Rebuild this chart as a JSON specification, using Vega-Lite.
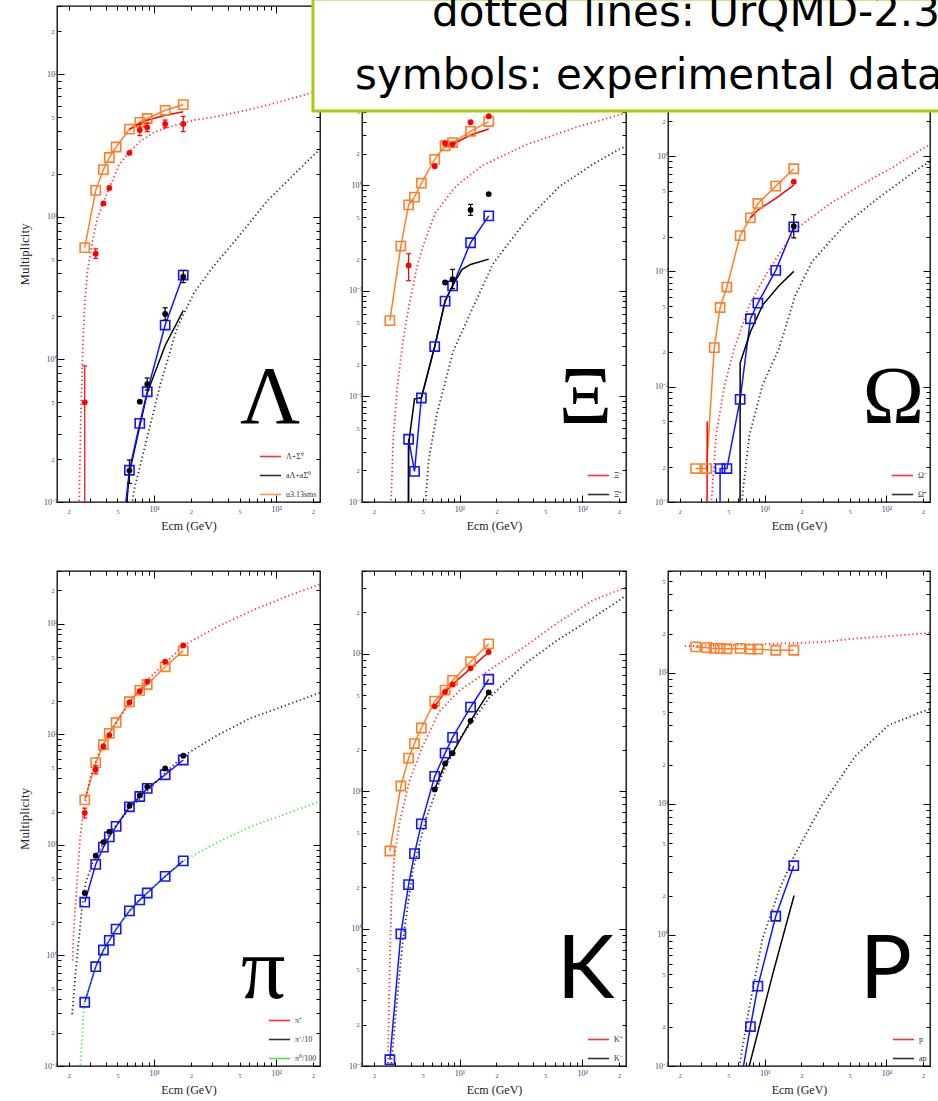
{
"$schema": "https://vega.github.io/schema/vega-lite/v6.json",
"usermeta": {"embedOptions": {"actions": false}},
"background": "white",
"padding": {"left": 17, "top": -9, "right": -20, "bottom": 0},
"datasets": {
"one": [{}],
"lam": [
{"E":2.7,"M":6.07,"s":"u3.13sms","t":"sq"},{"E":3.32,"M":15.3,"s":"u3.13sms","t":"sq"},{"E":3.84,"M":21.4,"s":"u3.13sms","t":"sq"},{"E":4.29,"M":26.0,"s":"u3.13sms","t":"sq"},{"E":4.88,"M":30.8,"s":"u3.13sms","t":"sq"},{"E":6.27,"M":41.1,"s":"u3.13sms","t":"sq"},{"E":7.62,"M":45.9,"s":"u3.13sms","t":"sq"},{"E":8.77,"M":48.8,"s":"u3.13sms","t":"sq"},{"E":12.3,"M":55.7,"s":"u3.13sms","t":"sq"},{"E":17.3,"M":61.0,"s":"u3.13sms","t":"sq"},
{"E":6.27,"M":41,"s":"Λ+Σ⁰","t":"ln"},{"E":7.62,"M":45,"s":"Λ+Σ⁰","t":"ln"},{"E":8.77,"M":47.5,"s":"Λ+Σ⁰","t":"ln"},{"E":12.3,"M":51.5,"s":"Λ+Σ⁰","t":"ln"},{"E":17.3,"M":54.5,"s":"Λ+Σ⁰","t":"ln"},
{"E":2.7,"M":0.5,"lo":0.01,"hi":0.9,"s":"Λ+Σ⁰","t":"pt"},{"E":3.32,"M":5.5,"lo":5.1,"hi":5.95,"s":"Λ+Σ⁰","t":"pt"},{"E":3.84,"M":12.4,"s":"Λ+Σ⁰","t":"pt"},{"E":4.29,"M":15.9,"s":"Λ+Σ⁰","t":"pt"},{"E":6.27,"M":28.0,"s":"Λ+Σ⁰","t":"pt"},{"E":7.62,"M":40.5,"lo":37,"hi":44.4,"s":"Λ+Σ⁰","t":"pt"},{"E":8.77,"M":42.3,"lo":39.5,"hi":45.3,"s":"Λ+Σ⁰","t":"pt"},{"E":12.3,"M":44.7,"lo":42,"hi":47.6,"s":"Λ+Σ⁰","t":"pt"},{"E":17.3,"M":44.7,"lo":39.5,"hi":50.5,"s":"Λ+Σ⁰","t":"pt"},
{"E":2.41,"M":0.05,"s":"Λ+Σ⁰","t":"dot"},{"E":2.43,"M":0.1,"s":"Λ+Σ⁰","t":"dot"},{"E":2.5,"M":0.35,"s":"Λ+Σ⁰","t":"dot"},{"E":2.6,"M":1.2,"s":"Λ+Σ⁰","t":"dot"},{"E":2.7,"M":2.5,"s":"Λ+Σ⁰","t":"dot"},{"E":2.85,"M":4.2,"s":"Λ+Σ⁰","t":"dot"},{"E":3.1,"M":6.5,"s":"Λ+Σ⁰","t":"dot"},{"E":3.42,"M":9.8,"s":"Λ+Σ⁰","t":"dot"},{"E":3.84,"M":12.6,"s":"Λ+Σ⁰","t":"dot"},{"E":4.29,"M":15.9,"s":"Λ+Σ⁰","t":"dot"},{"E":5.15,"M":23,"s":"Λ+Σ⁰","t":"dot"},{"E":6.23,"M":28.3,"s":"Λ+Σ⁰","t":"dot"},{"E":7.76,"M":34,"s":"Λ+Σ⁰","t":"dot"},{"E":10,"M":39,"s":"Λ+Σ⁰","t":"dot"},{"E":12.9,"M":42.3,"s":"Λ+Σ⁰","t":"dot"},{"E":21.3,"M":47.6,"s":"Λ+Σ⁰","t":"dot"},{"E":33,"M":50.5,"s":"Λ+Σ⁰","t":"dot"},{"E":62,"M":56.7,"s":"Λ+Σ⁰","t":"dot"},{"E":117,"M":65.2,"s":"Λ+Σ⁰","t":"dot"},{"E":228,"M":77,"s":"Λ+Σ⁰","t":"dot"},
{"E":6.27,"M":0.166,"lo":0.135,"hi":0.197,"s":"aΛ+aΣ⁰","t":"pt"},{"E":7.62,"M":0.505,"s":"aΛ+aΣ⁰","t":"pt"},{"E":8.77,"M":0.671,"lo":0.61,"hi":0.74,"s":"aΛ+aΣ⁰","t":"pt"},{"E":12.3,"M":2.08,"lo":1.88,"hi":2.3,"s":"aΛ+aΣ⁰","t":"pt"},{"E":17.3,"M":3.8,"lo":3.45,"hi":4.2,"s":"aΛ+aΣ⁰","t":"pt"},
{"E":5.9,"M":0.09,"s":"aΛ+aΣ⁰","t":"ln"},{"E":6.27,"M":0.16,"s":"aΛ+aΣ⁰","t":"ln"},{"E":7.62,"M":0.34,"s":"aΛ+aΣ⁰","t":"ln"},{"E":8.77,"M":0.58,"s":"aΛ+aΣ⁰","t":"ln"},{"E":12.3,"M":1.25,"s":"aΛ+aΣ⁰","t":"ln"},{"E":17.3,"M":2.2,"s":"aΛ+aΣ⁰","t":"ln"},
{"E":6.5,"M":0.09,"s":"aΛ+aΣ⁰","t":"dot"},{"E":6.84,"M":0.121,"s":"aΛ+aΣ⁰","t":"dot"},{"E":8.26,"M":0.231,"s":"aΛ+aΣ⁰","t":"dot"},{"E":11.3,"M":0.68,"s":"aΛ+aΣ⁰","t":"dot"},{"E":15.5,"M":1.69,"s":"aΛ+aΣ⁰","t":"dot"},{"E":21.3,"M":2.95,"s":"aΛ+aΣ⁰","t":"dot"},{"E":30,"M":4.4,"s":"aΛ+aΣ⁰","t":"dot"},{"E":45.4,"M":6.7,"s":"aΛ+aΣ⁰","t":"dot"},{"E":85,"M":13,"s":"aΛ+aΣ⁰","t":"dot"},{"E":200,"M":26.8,"s":"aΛ+aΣ⁰","t":"dot"},{"E":228,"M":29.5,"s":"aΛ+aΣ⁰","t":"dot"},
{"E":5.6,"M":0.07,"s":"b","t":"ln"},{"E":6.27,"M":0.167,"s":"b","t":"sq"},{"E":7.62,"M":0.356,"s":"b","t":"sq"},{"E":8.77,"M":0.593,"s":"b","t":"sq"},{"E":12.3,"M":1.74,"s":"b","t":"sq"},{"E":17.3,"M":3.9,"s":"b","t":"sq"}
],
"xi": [
{"E":2.7,"M":0.0523,"s":"u","t":"sq"},{"E":3.32,"M":0.266,"s":"u","t":"sq"},{"E":3.84,"M":0.653,"s":"u","t":"sq"},{"E":4.29,"M":0.774,"s":"u","t":"sq"},{"E":4.88,"M":1.05,"s":"u","t":"sq"},{"E":6.27,"M":1.76,"s":"u","t":"sq"},{"E":7.62,"M":2.37,"s":"u","t":"sq"},{"E":8.77,"M":2.54,"s":"u","t":"sq"},{"E":12.3,"M":3.25,"s":"u","t":"sq"},{"E":17.3,"M":4.02,"s":"u","t":"sq"},
{"E":7.62,"M":2.3,"s":"Ξ⁻","t":"ln"},{"E":8.77,"M":2.45,"s":"Ξ⁻","t":"ln"},{"E":12.3,"M":3.0,"s":"Ξ⁻","t":"ln"},{"E":17.3,"M":3.42,"s":"Ξ⁻","t":"ln"},
{"E":3.84,"M":0.174,"lo":0.125,"hi":0.225,"s":"Ξ⁻","t":"pt"},{"E":6.27,"M":1.52,"s":"Ξ⁻","t":"pt"},{"E":7.62,"M":2.51,"s":"Ξ⁻","t":"pt"},{"E":8.77,"M":2.45,"s":"Ξ⁻","t":"pt"},{"E":12.3,"M":3.96,"s":"Ξ⁻","t":"pt"},{"E":17.3,"M":4.52,"s":"Ξ⁻","t":"pt"},
{"E":2.74,"M":0.0008,"s":"Ξ⁻","t":"dot"},{"E":2.88,"M":0.004,"s":"Ξ⁻","t":"dot"},{"E":3.1,"M":0.012,"s":"Ξ⁻","t":"dot"},{"E":3.47,"M":0.035,"s":"Ξ⁻","t":"dot"},{"E":3.85,"M":0.07,"s":"Ξ⁻","t":"dot"},{"E":4.5,"M":0.17,"s":"Ξ⁻","t":"dot"},{"E":5.0,"M":0.26,"s":"Ξ⁻","t":"dot"},{"E":6.3,"M":0.54,"s":"Ξ⁻","t":"dot"},{"E":8.85,"M":0.91,"s":"Ξ⁻","t":"dot"},{"E":10,"M":1.05,"s":"Ξ⁻","t":"dot"},{"E":15.5,"M":1.55,"s":"Ξ⁻","t":"dot"},{"E":35,"M":2.43,"s":"Ξ⁻","t":"dot"},{"E":89.5,"M":3.55,"s":"Ξ⁻","t":"dot"},{"E":228,"M":4.85,"s":"Ξ⁻","t":"dot"},
{"E":3.83,"M":0.0005,"s":"b","t":"ln"},{"E":3.84,"M":0.00393,"s":"b","t":"sq"},{"E":4.29,"M":0.00195,"s":"b","t":"sq"},{"E":4.88,"M":0.00966,"s":"b","t":"sq"},{"E":6.27,"M":0.0297,"s":"b","t":"sq"},{"E":7.62,"M":0.08,"s":"b","t":"sq"},{"E":8.77,"M":0.1117,"s":"b","t":"sq"},{"E":12.3,"M":0.286,"s":"b","t":"sq"},{"E":17.3,"M":0.513,"s":"b","t":"sq"},
{"E":3.83,"M":0.0005,"s":"Ξ̄⁺","t":"ln"},{"E":3.835,"M":0.0035,"s":"Ξ̄⁺","t":"ln"},{"E":4.29,"M":0.0095,"s":"Ξ̄⁺","t":"ln"},{"E":4.88,"M":0.0097,"s":"Ξ̄⁺","t":"ln"},{"E":6.27,"M":0.0297,"s":"Ξ̄⁺","t":"ln"},{"E":7.62,"M":0.08,"s":"Ξ̄⁺","t":"ln"},{"E":8.77,"M":0.112,"s":"Ξ̄⁺","t":"ln"},{"E":10.5,"M":0.16,"s":"Ξ̄⁺","t":"ln"},{"E":12.3,"M":0.178,"s":"Ξ̄⁺","t":"ln"},{"E":17.3,"M":0.2,"s":"Ξ̄⁺","t":"ln"},
{"E":7.62,"M":0.12,"s":"Ξ̄⁺","t":"pt"},{"E":8.77,"M":0.129,"lo":0.105,"hi":0.16,"s":"Ξ̄⁺","t":"pt"},{"E":12.3,"M":0.585,"lo":0.52,"hi":0.66,"s":"Ξ̄⁺","t":"pt"},{"E":17.3,"M":0.826,"s":"Ξ̄⁺","t":"pt"},
{"E":5.2,"M":0.0008,"s":"Ξ̄⁺","t":"dot"},{"E":5.6,"M":0.0025,"s":"Ξ̄⁺","t":"dot"},{"E":6.49,"M":0.0066,"s":"Ξ̄⁺","t":"dot"},{"E":8.85,"M":0.0266,"s":"Ξ̄⁺","t":"dot"},{"E":12.1,"M":0.0597,"s":"Ξ̄⁺","t":"dot"},{"E":18.7,"M":0.18,"s":"Ξ̄⁺","t":"dot"},{"E":35.1,"M":0.469,"s":"Ξ̄⁺","t":"dot"},{"E":65.5,"M":0.977,"s":"Ξ̄⁺","t":"dot"},{"E":122,"M":1.58,"s":"Ξ̄⁺","t":"dot"},{"E":201,"M":2.2,"s":"Ξ̄⁺","t":"dot"},{"E":228,"M":2.35,"s":"Ξ̄⁺","t":"dot"}
],
"om": [
{"E":2.7,"M":0.00195,"s":"u","t":"sq"},{"E":3.32,"M":0.00195,"s":"u","t":"sq"},{"E":3.84,"M":0.0218,"s":"u","t":"sq"},{"E":4.29,"M":0.0486,"s":"u","t":"sq"},{"E":4.88,"M":0.0731,"s":"u","t":"sq"},{"E":6.27,"M":0.204,"s":"u","t":"sq"},{"E":7.62,"M":0.291,"s":"u","t":"sq"},{"E":8.77,"M":0.388,"s":"u","t":"sq"},{"E":12.3,"M":0.548,"s":"u","t":"sq"},{"E":17.3,"M":0.776,"s":"u","t":"sq"},
{"E":3.35,"M":0.0005,"s":"r2","t":"ln"},{"E":3.36,"M":0.005,"s":"r2","t":"ln"},
{"E":7.62,"M":0.29,"s":"Ω⁻","t":"ln"},{"E":8.77,"M":0.34,"s":"Ω⁻","t":"ln"},{"E":12.3,"M":0.43,"s":"Ω⁻","t":"ln"},{"E":17.3,"M":0.56,"s":"Ω⁻","t":"ln"},
{"E":17.3,"M":0.598,"s":"Ω⁻","t":"pt"},
{"E":3.55,"M":0.0007,"s":"Ω⁻","t":"dot"},{"E":3.69,"M":0.00122,"s":"Ω⁻","t":"dot"},{"E":3.98,"M":0.0038,"s":"Ω⁻","t":"dot"},{"E":4.67,"M":0.0103,"s":"Ω⁻","t":"dot"},{"E":5.62,"M":0.0215,"s":"Ω⁻","t":"dot"},{"E":7.47,"M":0.0513,"s":"Ω⁻","t":"dot"},{"E":10.2,"M":0.0936,"s":"Ω⁻","t":"dot"},{"E":17.7,"M":0.23,"s":"Ω⁻","t":"dot"},{"E":33.6,"M":0.38,"s":"Ω⁻","t":"dot"},{"E":62.8,"M":0.567,"s":"Ω⁻","t":"dot"},{"E":117,"M":0.819,"s":"Ω⁻","t":"dot"},{"E":188,"M":1.12,"s":"Ω⁻","t":"dot"},{"E":228,"M":1.25,"s":"Ω⁻","t":"dot"},
{"E":4.28,"M":0.0005,"s":"b","t":"ln"},{"E":4.29,"M":0.00195,"s":"b","t":"sq"},{"E":4.88,"M":0.00195,"s":"b","t":"sq"},{"E":6.27,"M":0.00776,"s":"b","t":"sq"},{"E":7.62,"M":0.0388,"s":"b","t":"sq"},{"E":8.77,"M":0.053,"s":"b","t":"sq"},{"E":12.3,"M":0.102,"s":"b","t":"sq"},{"E":17.3,"M":0.243,"s":"b","t":"sq"},
{"E":6.26,"M":0.0005,"s":"Ω̄⁺","t":"ln"},{"E":6.27,"M":0.016,"s":"Ω̄⁺","t":"ln"},{"E":7.62,"M":0.03,"s":"Ω̄⁺","t":"ln"},{"E":9.6,"M":0.051,"s":"Ω̄⁺","t":"ln"},{"E":12.9,"M":0.074,"s":"Ω̄⁺","t":"ln"},{"E":17.3,"M":0.1,"s":"Ω̄⁺","t":"ln"},
{"E":17.3,"M":0.246,"lo":0.195,"hi":0.311,"s":"Ω̄⁺","t":"pt"},
{"E":6.35,"M":0.0007,"s":"Ω̄⁺","t":"dot"},{"E":6.58,"M":0.0012,"s":"Ω̄⁺","t":"dot"},{"E":7.47,"M":0.0038,"s":"Ω̄⁺","t":"dot"},{"E":9.58,"M":0.0103,"s":"Ω̄⁺","t":"dot"},{"E":13.1,"M":0.0215,"s":"Ω̄⁺","t":"dot"},{"E":17.9,"M":0.0627,"s":"Ω̄⁺","t":"dot"},{"E":24.5,"M":0.122,"s":"Ω̄⁺","t":"dot"},{"E":45.8,"M":0.255,"s":"Ω̄⁺","t":"dot"},{"E":85.9,"M":0.434,"s":"Ω̄⁺","t":"dot"},{"E":188,"M":0.792,"s":"Ω̄⁺","t":"dot"},{"E":228,"M":0.9,"s":"Ω̄⁺","t":"dot"}
],
"pi": [
{"E":2.7,"M":25.5,"s":"u","t":"sq"},{"E":3.32,"M":55.4,"s":"u","t":"sq"},{"E":3.84,"M":80.5,"s":"u","t":"sq"},{"E":4.29,"M":102,"s":"u","t":"sq"},{"E":4.88,"M":128,"s":"u","t":"sq"},{"E":6.27,"M":197,"s":"u","t":"sq"},{"E":7.62,"M":250,"s":"u","t":"sq"},{"E":8.77,"M":282,"s":"u","t":"sq"},{"E":12.3,"M":408,"s":"u","t":"sq"},{"E":17.3,"M":571,"s":"u","t":"sq"},
{"E":2.7,"M":19.5,"lo":17.5,"hi":21.5,"s":"π⁺","t":"pt"},{"E":3.32,"M":48,"lo":44,"hi":52,"s":"π⁺","t":"pt"},{"E":3.84,"M":77.6,"s":"π⁺","t":"pt"},{"E":4.29,"M":98.4,"s":"π⁺","t":"pt"},{"E":6.27,"M":194,"s":"π⁺","t":"pt"},{"E":7.62,"M":245,"s":"π⁺","t":"pt"},{"E":8.77,"M":299,"s":"π⁺","t":"pt"},{"E":12.3,"M":454,"s":"π⁺","t":"pt"},{"E":17.3,"M":637,"s":"π⁺","t":"pt"},
{"E":2.7,"M":3.67,"s":"π⁻/10","t":"pt"},{"E":3.32,"M":7.98,"s":"π⁻/10","t":"pt"},{"E":3.84,"M":10.6,"s":"π⁻/10","t":"pt"},{"E":4.29,"M":13.2,"s":"π⁻/10","t":"pt"},{"E":6.27,"M":22.6,"s":"π⁻/10","t":"pt"},{"E":7.62,"M":28,"s":"π⁻/10","t":"pt"},{"E":8.77,"M":33.5,"s":"π⁻/10","t":"pt"},{"E":12.3,"M":49.1,"s":"π⁻/10","t":"pt"},{"E":17.3,"M":64,"s":"π⁻/10","t":"pt"},
{"E":2.7,"M":3.03,"s":"b1","t":"sq"},{"E":3.32,"M":6.66,"s":"b1","t":"sq"},{"E":3.84,"M":9.55,"s":"b1","t":"sq"},{"E":4.29,"M":11.8,"s":"b1","t":"sq"},{"E":4.88,"M":14.7,"s":"b1","t":"sq"},{"E":6.27,"M":22.1,"s":"b1","t":"sq"},{"E":7.62,"M":27.4,"s":"b1","t":"sq"},{"E":8.77,"M":32.4,"s":"b1","t":"sq"},{"E":12.3,"M":43.1,"s":"b1","t":"sq"},{"E":17.3,"M":58.6,"s":"b1","t":"sq"},
{"E":2.7,"M":0.377,"s":"b2","t":"sq"},{"E":3.32,"M":0.791,"s":"b2","t":"sq"},{"E":3.84,"M":1.12,"s":"b2","t":"sq"},{"E":4.29,"M":1.37,"s":"b2","t":"sq"},{"E":4.88,"M":1.73,"s":"b2","t":"sq"},{"E":6.27,"M":2.53,"s":"b2","t":"sq"},{"E":7.62,"M":3.18,"s":"b2","t":"sq"},{"E":8.77,"M":3.67,"s":"b2","t":"sq"},{"E":12.3,"M":5.19,"s":"b2","t":"sq"},{"E":17.3,"M":7.16,"s":"b2","t":"sq"},
{"E":2.15,"M":0.9,"s":"π⁺","t":"dot"},{"E":2.17,"M":1.32,"s":"π⁺","t":"dot"},{"E":2.27,"M":2.92,"s":"π⁺","t":"dot"},{"E":2.37,"M":5.98,"s":"π⁺","t":"dot"},{"E":2.49,"M":12.3,"s":"π⁺","t":"dot"},{"E":2.66,"M":21.8,"s":"π⁺","t":"dot"},{"E":3.01,"M":41.6,"s":"π⁺","t":"dot"},{"E":3.64,"M":73.8,"s":"π⁺","t":"dot"},{"E":4.4,"M":106,"s":"π⁺","t":"dot"},{"E":6.43,"M":202,"s":"π⁺","t":"dot"},{"E":8.81,"M":310,"s":"π⁺","t":"dot"},{"E":17.4,"M":637,"s":"π⁺","t":"dot"},{"E":33.1,"M":944,"s":"π⁺","t":"dot"},{"E":62.2,"M":1304,"s":"π⁺","t":"dot"},{"E":117,"M":1738,"s":"π⁺","t":"dot"},{"E":228,"M":2280,"s":"π⁺","t":"dot"},
{"E":2.13,"M":0.294,"s":"π⁻/10","t":"dot"},{"E":2.27,"M":0.695,"s":"π⁻/10","t":"dot"},{"E":2.42,"M":1.42,"s":"π⁻/10","t":"dot"},{"E":2.58,"M":2.92,"s":"π⁻/10","t":"dot"},{"E":2.74,"M":4.49,"s":"π⁻/10","t":"dot"},{"E":3.2,"M":7.43,"s":"π⁻/10","t":"dot"},{"E":4.4,"M":13.2,"s":"π⁻/10","t":"dot"},{"E":6.43,"M":21.8,"s":"π⁻/10","t":"dot"},{"E":12.3,"M":44.7,"s":"π⁻/10","t":"dot"},{"E":17.4,"M":64,"s":"π⁻/10","t":"dot"},{"E":33.1,"M":98.4,"s":"π⁻/10","t":"dot"},{"E":62.2,"M":141,"s":"π⁻/10","t":"dot"},{"E":117,"M":181,"s":"π⁻/10","t":"dot"},{"E":228,"M":238,"s":"π⁻/10","t":"dot"},
{"E":2.45,"M":0.08,"s":"π⁰/100","t":"dot"},{"E":2.58,"M":0.191,"s":"π⁰/100","t":"dot"},{"E":2.66,"M":0.364,"s":"π⁰/100","t":"dot"},{"E":3.32,"M":0.79,"s":"π⁰/100","t":"dot"},{"E":4.29,"M":1.37,"s":"π⁰/100","t":"dot"},{"E":6.27,"M":2.53,"s":"π⁰/100","t":"dot"},{"E":8.77,"M":3.67,"s":"π⁰/100","t":"dot"},{"E":12.3,"M":5.19,"s":"π⁰/100","t":"dot"},{"E":17.4,"M":7.16,"s":"π⁰/100","t":"dot"},{"E":33.1,"M":10.6,"s":"π⁰/100","t":"dot"},{"E":62.2,"M":14.7,"s":"π⁰/100","t":"dot"},{"E":117,"M":18.9,"s":"π⁰/100","t":"dot"},{"E":228,"M":24.8,"s":"π⁰/100","t":"dot"}
],
"k": [
{"E":2.7,"M":3.67,"s":"u","t":"sq"},{"E":3.32,"M":10.9,"s":"u","t":"sq"},{"E":3.84,"M":17.4,"s":"u","t":"sq"},{"E":4.29,"M":22.2,"s":"u","t":"sq"},{"E":4.88,"M":28.8,"s":"u","t":"sq"},{"E":6.27,"M":45.2,"s":"u","t":"sq"},{"E":7.62,"M":54.4,"s":"u","t":"sq"},{"E":8.77,"M":64,"s":"u","t":"sq"},{"E":12.3,"M":87.5,"s":"u","t":"sq"},{"E":17.3,"M":118,"s":"u","t":"sq"},
{"E":6.27,"M":41.4,"s":"K⁺","t":"pt"},{"E":7.62,"M":52.8,"s":"K⁺","t":"pt"},{"E":8.77,"M":59.7,"s":"K⁺","t":"pt"},{"E":12.3,"M":78.3,"s":"K⁺","t":"pt"},{"E":17.3,"M":103,"s":"K⁺","t":"pt"},
{"E":6.27,"M":41.4,"s":"K⁺","t":"ln"},{"E":7.62,"M":52.8,"s":"K⁺","t":"ln"},{"E":8.77,"M":59.7,"s":"K⁺","t":"ln"},{"E":12.3,"M":78.3,"s":"K⁺","t":"ln"},{"E":17.3,"M":103,"s":"K⁺","t":"ln"},
{"E":2.7,"M":0.111,"s":"b","t":"sq"},{"E":3.32,"M":0.914,"s":"b","t":"sq"},{"E":3.84,"M":2.09,"s":"b","t":"sq"},{"E":4.29,"M":3.51,"s":"b","t":"sq"},{"E":4.88,"M":5.78,"s":"b","t":"sq"},{"E":6.27,"M":12.8,"s":"b","t":"sq"},{"E":7.62,"M":18.9,"s":"b","t":"sq"},{"E":8.77,"M":24.6,"s":"b","t":"sq"},{"E":12.3,"M":40.9,"s":"b","t":"sq"},{"E":17.3,"M":65.2,"s":"b","t":"sq"},
{"E":6.27,"M":10.3,"s":"K⁻","t":"pt"},{"E":7.62,"M":15.9,"s":"K⁻","t":"pt"},{"E":8.77,"M":18.9,"s":"K⁻","t":"pt"},{"E":12.3,"M":32.5,"s":"K⁻","t":"pt"},{"E":17.3,"M":52.3,"s":"K⁻","t":"pt"},
{"E":6.27,"M":10.3,"s":"K⁻","t":"ln"},{"E":7.62,"M":15.9,"s":"K⁻","t":"ln"},{"E":8.77,"M":18.9,"s":"K⁻","t":"ln"},{"E":12.3,"M":32.5,"s":"K⁻","t":"ln"},{"E":17.3,"M":52.3,"s":"K⁻","t":"ln"},
{"E":2.58,"M":0.08,"s":"K⁺","t":"dot"},{"E":2.6,"M":0.103,"s":"K⁺","t":"dot"},{"E":2.69,"M":0.464,"s":"K⁺","t":"dot"},{"E":2.77,"M":1.48,"s":"K⁺","t":"dot"},{"E":2.94,"M":3.33,"s":"K⁺","t":"dot"},{"E":3.24,"M":5.94,"s":"K⁺","t":"dot"},{"E":3.9,"M":11.9,"s":"K⁺","t":"dot"},{"E":5.01,"M":21.3,"s":"K⁺","t":"dot"},{"E":6.85,"M":38,"s":"K⁺","t":"dot"},{"E":9.96,"M":53.8,"s":"K⁺","t":"dot"},{"E":17.5,"M":76.2,"s":"K⁺","t":"dot"},{"E":34.7,"M":114,"s":"K⁺","t":"dot"},{"E":64.9,"M":171,"s":"K⁺","t":"dot"},{"E":121,"M":243,"s":"K⁺","t":"dot"},{"E":228,"M":305,"s":"K⁺","t":"dot"},
{"E":2.75,"M":0.08,"s":"K⁻","t":"dot"},{"E":2.77,"M":0.103,"s":"K⁻","t":"dot"},{"E":3.04,"M":0.26,"s":"K⁻","t":"dot"},{"E":3.45,"M":0.828,"s":"K⁻","t":"dot"},{"E":4.15,"M":2.64,"s":"K⁻","t":"dot"},{"E":5.33,"M":6.3,"s":"K⁻","t":"dot"},{"E":7.27,"M":13.4,"s":"K⁻","t":"dot"},{"E":9.96,"M":23.9,"s":"K⁻","t":"dot"},{"E":17.5,"M":47.9,"s":"K⁻","t":"dot"},{"E":34.7,"M":85.5,"s":"K⁻","t":"dot"},{"E":64.9,"M":128,"s":"K⁻","t":"dot"},{"E":121,"M":181,"s":"K⁻","t":"dot"},{"E":228,"M":265,"s":"K⁻","t":"dot"}
],
"p": [
{"E":2.7,"M":158,"s":"u","t":"sq"},{"E":3.32,"M":156,"s":"u","t":"sq"},{"E":3.84,"M":154,"s":"u","t":"sq"},{"E":4.29,"M":154,"s":"u","t":"sq"},{"E":4.88,"M":153,"s":"u","t":"sq"},{"E":6.27,"M":154,"s":"u","t":"sq"},{"E":7.62,"M":152,"s":"u","t":"sq"},{"E":8.77,"M":152,"s":"u","t":"sq"},{"E":12.3,"M":149,"s":"u","t":"sq"},{"E":17.3,"M":149,"s":"u","t":"sq"},
{"E":2.2,"M":160,"s":"p","t":"dot"},{"E":8.45,"M":165,"s":"p","t":"dot"},{"E":29.6,"M":172,"s":"p","t":"dot"},{"E":55,"M":183,"s":"p","t":"dot"},{"E":200,"M":200,"s":"p","t":"dot"},{"E":228,"M":203,"s":"p","t":"dot"},
{"E":6.4,"M":0.08,"s":"b","t":"ln"},{"E":7.62,"M":0.2,"s":"b","t":"sq"},{"E":8.77,"M":0.407,"s":"b","t":"sq"},{"E":12.3,"M":1.39,"s":"b","t":"sq"},{"E":17.3,"M":3.38,"s":"b","t":"sq"},
{"E":7.0,"M":0.08,"s":"ap","t":"ln"},{"E":11.6,"M":0.5,"s":"ap","t":"ln"},{"E":17.4,"M":2.0,"s":"ap","t":"ln"},
{"E":6.05,"M":0.08,"s":"ap","t":"dot"},{"E":6.18,"M":0.1,"s":"ap","t":"dot"},{"E":7.46,"M":0.28,"s":"ap","t":"dot"},{"E":9.58,"M":0.94,"s":"ap","t":"dot"},{"E":13.1,"M":2.19,"s":"ap","t":"dot"},{"E":17.4,"M":4.0,"s":"ap","t":"dot"},{"E":29.6,"M":9.88,"s":"ap","t":"dot"},{"E":55.3,"M":23.1,"s":"ap","t":"dot"},{"E":104,"M":39.9,"s":"ap","t":"dot"},{"E":200,"M":50.8,"s":"ap","t":"dot"},{"E":228,"M":53,"s":"ap","t":"dot"}
]
},
"concat": [
{
"width": 263, "height": 496,
"layer": [
{"data": {"name": "lam"}, "encoding": {
"x": {"field": "E", "type": "quantitative", "scale": {"type": "log", "domain": [1.6, 228], "nice": false}, "axis": null},
"y": {"field": "M", "type": "quantitative", "scale": {"type": "log", "domain": [0.1, 300], "nice": false}, "axis": null},
"color": {"field": "s", "type": "nominal", "scale": {"domain": ["Λ+Σ⁰","aΛ+aΣ⁰","u3.13sms","b"], "range": ["#ff0000","#000000","#ff7f27","#1414ff"]}, "legend": {"values": ["Λ+Σ⁰","aΛ+aΣ⁰","u3.13sms"], "orient": "bottom-right", "title": null, "offset": 3, "symbolType": "stroke", "symbolSize": 450, "symbolStrokeWidth": 1.6, "labelFont": "Liberation Serif", "labelFontSize": 8, "labelColor": "#333", "rowPadding": 3, "padding": 0}}
},
"layer": [
{"transform": [{"filter": "datum.t=='ln'||datum.t=='sq'"}], "mark": {"type": "line", "strokeWidth": 1.5, "clip": true}},
{"transform": [{"filter": "datum.t=='dot'"}], "mark": {"type": "line", "strokeWidth": 1.8, "strokeDash": [1.3, 2.7], "opacity": 0.8, "clip": true}},
{"transform": [{"filter": "datum.t=='sq'"}], "mark": {"type": "square", "filled": false, "size": 85, "strokeWidth": 1.6, "opacity": 1, "clip": true}},
{"transform": [{"filter": "datum.t=='pt'&&isValid(datum.lo)"}], "mark": {"type": "rule", "strokeWidth": 1.2, "clip": true}, "encoding": {"y": {"field": "lo", "type": "quantitative", "axis": null}, "y2": {"field": "hi"}}},
{"transform": [{"filter": "datum.t=='pt'&&isValid(datum.lo)"}], "mark": {"type": "tick", "orient": "horizontal", "size": 5, "thickness": 1.2, "opacity": 1, "clip": true}, "encoding": {"y": {"field": "lo", "type": "quantitative", "axis": null}}},
{"transform": [{"filter": "datum.t=='pt'&&isValid(datum.lo)"}], "mark": {"type": "tick", "orient": "horizontal", "size": 5, "thickness": 1.2, "opacity": 1, "clip": true}, "encoding": {"y": {"field": "hi", "type": "quantitative", "axis": null}}},
{"transform": [{"filter": "datum.t=='pt'"}], "mark": {"type": "circle", "size": 34, "opacity": 1, "clip": true}}
]},
{"data": {"name": "one"}, "mark": {"type": "text", "text": "Λ", "font": "Liberation Serif", "fontSize": 83, "align": "center", "baseline": "alphabetic", "color": "#000"},
 "encoding": {
 "x": {"datum": 88.8, "type": "quantitative", "axis": {"orient": "bottom", "title": "Ecm (GeV)", "titlePadding": 6, "values": [2,3,4,5,6,7,8,9,10,20,30,40,50,60,70,80,90,100,200], "labelExpr": "abs(log(datum.value)/LN10-round(log(datum.value)/LN10))<0.01?['10⁻³','10⁻²','10⁻¹','10⁰','10¹','10²','10³'][round(log(datum.value)/LN10)+3]:(abs(datum.value/pow(10,floor(log(datum.value)/LN10+0.001))-2)<0.01?'2':(abs(datum.value/pow(10,floor(log(datum.value)/LN10+0.001))-5)<0.01?'5':''))", "labelFontSize": {"condition": {"test": "abs(log(datum.value)/LN10-round(log(datum.value)/LN10))<0.01", "value": 8}, "value": 6}, "tickSize": {"condition": {"test": "abs(log(datum.value)/LN10-round(log(datum.value)/LN10))<0.01", "value": -7}, "value": -4}, "labelPadding": 10}},
 "y": {"datum": 0.358, "type": "quantitative", "axis": {"orient": "left", "title": "Multiplicity", "titleFontSize": 13, "titlePadding": 12, "values": [0.1,0.2,0.3,0.4,0.5,0.6,0.7,0.8,0.9,1,2,3,4,5,6,7,8,9,10,20,30,40,50,60,70,80,90,100,200,300], "labelExpr": "abs(log(datum.value)/LN10-round(log(datum.value)/LN10))<0.01?['10⁻³','10⁻²','10⁻¹','10⁰','10¹','10²','10³'][round(log(datum.value)/LN10)+3]:(abs(datum.value/pow(10,floor(log(datum.value)/LN10+0.001))-2)<0.01?'2':(abs(datum.value/pow(10,floor(log(datum.value)/LN10+0.001))-5)<0.01?'5':''))", "labelFontSize": {"condition": {"test": "abs(log(datum.value)/LN10-round(log(datum.value)/LN10))<0.01", "value": 8}, "value": 6}, "tickSize": {"condition": {"test": "abs(log(datum.value)/LN10-round(log(datum.value)/LN10))<0.01", "value": -7}, "value": -4}, "labelPadding": 7}}}},
{"data": {"name": "one"}, "mark": {"type": "text", "text": ""},
 "encoding": {"x": {"datum": 10, "type": "quantitative", "axis": {"orient": "top", "labels": false, "title": null, "values": [2,3,4,5,6,7,8,9,10,20,30,40,50,60,70,80,90,100,200], "tickSize": {"condition": {"test": "abs(log(datum.value)/LN10-round(log(datum.value)/LN10))<0.01", "value": -7}, "value": -4}}},
 "y": {"datum": 1, "type": "quantitative", "axis": {"orient": "right", "labels": false, "title": null, "values": [0.1,0.2,0.3,0.4,0.5,0.6,0.7,0.8,0.9,1,2,3,4,5,6,7,8,9,10,20,30,40,50,60,70,80,90,100,200,300], "tickSize": {"condition": {"test": "abs(log(datum.value)/LN10-round(log(datum.value)/LN10))<0.01", "value": -7}, "value": -4}}}}}
],
"resolve": {"axis": {"x": "independent", "y": "independent"}}
},
{
"width": 264, "height": 496,
"layer": [
{"data": {"name": "xi"}, "encoding": {
"x": {"field": "E", "type": "quantitative", "scale": {"type": "log", "domain": [1.6, 228], "nice": false}, "axis": null},
"y": {"field": "M", "type": "quantitative", "scale": {"type": "log", "domain": [0.001, 50], "nice": false}, "axis": null},
"color": {"field": "s", "type": "nominal", "scale": {"domain": ["Ξ⁻","Ξ̄⁺","u","b"], "range": ["#ff0000","#000000","#ff7f27","#1414ff"]}, "legend": {"values": ["Ξ⁻","Ξ̄⁺"], "orient": "bottom-right", "title": null, "offset": 3, "symbolType": "stroke", "symbolSize": 450, "symbolStrokeWidth": 1.6, "labelFont": "Liberation Serif", "labelFontSize": 8, "labelColor": "#333", "rowPadding": 3, "padding": 0}}
},
"layer": [
{"transform": [{"filter": "datum.t=='ln'||datum.t=='sq'"}], "mark": {"type": "line", "strokeWidth": 1.5, "clip": true}},
{"transform": [{"filter": "datum.t=='dot'"}], "mark": {"type": "line", "strokeWidth": 1.8, "strokeDash": [1.3, 2.7], "opacity": 0.8, "clip": true}},
{"transform": [{"filter": "datum.t=='sq'"}], "mark": {"type": "square", "filled": false, "size": 85, "strokeWidth": 1.6, "opacity": 1, "clip": true}},
{"transform": [{"filter": "datum.t=='pt'&&isValid(datum.lo)"}], "mark": {"type": "rule", "strokeWidth": 1.2, "clip": true}, "encoding": {"y": {"field": "lo", "type": "quantitative", "axis": null}, "y2": {"field": "hi"}}},
{"transform": [{"filter": "datum.t=='pt'&&isValid(datum.lo)"}], "mark": {"type": "tick", "orient": "horizontal", "size": 5, "thickness": 1.2, "opacity": 1, "clip": true}, "encoding": {"y": {"field": "lo", "type": "quantitative", "axis": null}}},
{"transform": [{"filter": "datum.t=='pt'&&isValid(datum.lo)"}], "mark": {"type": "tick", "orient": "horizontal", "size": 5, "thickness": 1.2, "opacity": 1, "clip": true}, "encoding": {"y": {"field": "hi", "type": "quantitative", "axis": null}}},
{"transform": [{"filter": "datum.t=='pt'"}], "mark": {"type": "circle", "size": 34, "opacity": 1, "clip": true}}
]},
{"data": {"name": "one"}, "mark": {"type": "text", "text": "Ξ", "font": "Liberation Serif", "fontSize": 83, "align": "center", "baseline": "alphabetic", "color": "#000"},
 "encoding": {
 "x": {"datum": 106.5, "type": "quantitative", "axis": {"orient": "bottom", "title": "Ecm (GeV)", "titlePadding": 6, "values": [2,3,4,5,6,7,8,9,10,20,30,40,50,60,70,80,90,100,200], "labelExpr": "abs(log(datum.value)/LN10-round(log(datum.value)/LN10))<0.01?['10⁻³','10⁻²','10⁻¹','10⁰','10¹','10²','10³'][round(log(datum.value)/LN10)+3]:(abs(datum.value/pow(10,floor(log(datum.value)/LN10+0.001))-2)<0.01?'2':(abs(datum.value/pow(10,floor(log(datum.value)/LN10+0.001))-5)<0.01?'5':''))", "labelFontSize": {"condition": {"test": "abs(log(datum.value)/LN10-round(log(datum.value)/LN10))<0.01", "value": 8}, "value": 6}, "tickSize": {"condition": {"test": "abs(log(datum.value)/LN10-round(log(datum.value)/LN10))<0.01", "value": -7}, "value": -4}, "labelPadding": 10}},
 "y": {"datum": 0.005641, "type": "quantitative", "axis": {"orient": "left", "title": null, "values": [0.001,0.002,0.003,0.004,0.005,0.006,0.007,0.008,0.009,0.01,0.02,0.03,0.04,0.05,0.06,0.07,0.08,0.09,0.1,0.2,0.3,0.4,0.5,0.6,0.7,0.8,0.9,1,2,3,4,5,6,7,8,9,10,20,30,40,50], "labelExpr": "abs(log(datum.value)/LN10-round(log(datum.value)/LN10))<0.01?['10⁻³','10⁻²','10⁻¹','10⁰','10¹','10²','10³'][round(log(datum.value)/LN10)+3]:(abs(datum.value/pow(10,floor(log(datum.value)/LN10+0.001))-2)<0.01?'2':(abs(datum.value/pow(10,floor(log(datum.value)/LN10+0.001))-5)<0.01?'5':''))", "labelFontSize": {"condition": {"test": "abs(log(datum.value)/LN10-round(log(datum.value)/LN10))<0.01", "value": 8}, "value": 6}, "tickSize": {"condition": {"test": "abs(log(datum.value)/LN10-round(log(datum.value)/LN10))<0.01", "value": -7}, "value": -4}, "labelPadding": 7}}}},
{"data": {"name": "one"}, "mark": {"type": "text", "text": ""},
 "encoding": {"x": {"datum": 10, "type": "quantitative", "axis": {"orient": "top", "labels": false, "title": null, "values": [2,3,4,5,6,7,8,9,10,20,30,40,50,60,70,80,90,100,200], "tickSize": {"condition": {"test": "abs(log(datum.value)/LN10-round(log(datum.value)/LN10))<0.01", "value": -7}, "value": -4}}},
 "y": {"datum": 1, "type": "quantitative", "axis": {"orient": "right", "labels": false, "title": null, "values": [0.001,0.002,0.003,0.004,0.005,0.006,0.007,0.008,0.009,0.01,0.02,0.03,0.04,0.05,0.06,0.07,0.08,0.09,0.1,0.2,0.3,0.4,0.5,0.6,0.7,0.8,0.9,1,2,3,4,5,6,7,8,9,10,20,30,40,50], "tickSize": {"condition": {"test": "abs(log(datum.value)/LN10-round(log(datum.value)/LN10))<0.01", "value": -7}, "value": -4}}}}}
],
"resolve": {"axis": {"x": "independent", "y": "independent"}}
},
{
"width": 262, "height": 496,
"layer": [
{"data": {"name": "om"}, "encoding": {
"x": {"field": "E", "type": "quantitative", "scale": {"type": "log", "domain": [1.6, 228], "nice": false}, "axis": null},
"y": {"field": "M", "type": "quantitative", "scale": {"type": "log", "domain": [0.001, 20], "nice": false}, "axis": null},
"color": {"field": "s", "type": "nominal", "scale": {"domain": ["Ω⁻","Ω̄⁺","u","b","r2"], "range": ["#ff0000","#000000","#ff7f27","#1414ff","#ff0000"]}, "legend": {"values": ["Ω⁻","Ω̄⁺"], "orient": "bottom-right", "title": null, "offset": 3, "symbolType": "stroke", "symbolSize": 450, "symbolStrokeWidth": 1.6, "labelFont": "Liberation Serif", "labelFontSize": 8, "labelColor": "#333", "rowPadding": 3, "padding": 0}}
},
"layer": [
{"transform": [{"filter": "datum.t=='ln'||datum.t=='sq'"}], "mark": {"type": "line", "strokeWidth": 1.5, "clip": true}},
{"transform": [{"filter": "datum.t=='dot'"}], "mark": {"type": "line", "strokeWidth": 1.8, "strokeDash": [1.3, 2.7], "opacity": 0.8, "clip": true}},
{"transform": [{"filter": "datum.t=='sq'"}], "mark": {"type": "square", "filled": false, "size": 85, "strokeWidth": 1.6, "opacity": 1, "clip": true}},
{"transform": [{"filter": "datum.t=='pt'&&isValid(datum.lo)"}], "mark": {"type": "rule", "strokeWidth": 1.2, "clip": true}, "encoding": {"y": {"field": "lo", "type": "quantitative", "axis": null}, "y2": {"field": "hi"}}},
{"transform": [{"filter": "datum.t=='pt'&&isValid(datum.lo)"}], "mark": {"type": "tick", "orient": "horizontal", "size": 5, "thickness": 1.2, "opacity": 1, "clip": true}, "encoding": {"y": {"field": "lo", "type": "quantitative", "axis": null}}},
{"transform": [{"filter": "datum.t=='pt'&&isValid(datum.lo)"}], "mark": {"type": "tick", "orient": "horizontal", "size": 5, "thickness": 1.2, "opacity": 1, "clip": true}, "encoding": {"y": {"field": "hi", "type": "quantitative", "axis": null}}},
{"transform": [{"filter": "datum.t=='pt'"}], "mark": {"type": "circle", "size": 34, "opacity": 1, "clip": true}}
]},
{"data": {"name": "one"}, "mark": {"type": "text", "text": "Ω", "font": "Liberation Serif", "fontSize": 83, "align": "center", "baseline": "alphabetic", "color": "#000"},
 "encoding": {
 "x": {"datum": 113.8, "type": "quantitative", "axis": {"orient": "bottom", "title": "Ecm (GeV)", "titlePadding": 6, "values": [2,3,4,5,6,7,8,9,10,20,30,40,50,60,70,80,90,100,200], "labelExpr": "abs(log(datum.value)/LN10-round(log(datum.value)/LN10))<0.01?['10⁻³','10⁻²','10⁻¹','10⁰','10¹','10²','10³'][round(log(datum.value)/LN10)+3]:(abs(datum.value/pow(10,floor(log(datum.value)/LN10+0.001))-2)<0.01?'2':(abs(datum.value/pow(10,floor(log(datum.value)/LN10+0.001))-5)<0.01?'5':''))", "labelFontSize": {"condition": {"test": "abs(log(datum.value)/LN10-round(log(datum.value)/LN10))<0.01", "value": 8}, "value": 6}, "tickSize": {"condition": {"test": "abs(log(datum.value)/LN10-round(log(datum.value)/LN10))<0.01", "value": -7}, "value": -4}, "labelPadding": 10}},
 "y": {"datum": 0.004871, "type": "quantitative", "axis": {"orient": "left", "title": null, "values": [0.001,0.002,0.003,0.004,0.005,0.006,0.007,0.008,0.009,0.01,0.02,0.03,0.04,0.05,0.06,0.07,0.08,0.09,0.1,0.2,0.3,0.4,0.5,0.6,0.7,0.8,0.9,1,2,3,4,5,6,7,8,9,10,20], "labelExpr": "abs(log(datum.value)/LN10-round(log(datum.value)/LN10))<0.01?['10⁻³','10⁻²','10⁻¹','10⁰','10¹','10²','10³'][round(log(datum.value)/LN10)+3]:(abs(datum.value/pow(10,floor(log(datum.value)/LN10+0.001))-2)<0.01?'2':(abs(datum.value/pow(10,floor(log(datum.value)/LN10+0.001))-5)<0.01?'5':''))", "labelFontSize": {"condition": {"test": "abs(log(datum.value)/LN10-round(log(datum.value)/LN10))<0.01", "value": 8}, "value": 6}, "tickSize": {"condition": {"test": "abs(log(datum.value)/LN10-round(log(datum.value)/LN10))<0.01", "value": -7}, "value": -4}, "labelPadding": 7}}}},
{"data": {"name": "one"}, "mark": {"type": "text", "text": ""},
 "encoding": {"x": {"datum": 10, "type": "quantitative", "axis": {"orient": "top", "labels": false, "title": null, "values": [2,3,4,5,6,7,8,9,10,20,30,40,50,60,70,80,90,100,200], "tickSize": {"condition": {"test": "abs(log(datum.value)/LN10-round(log(datum.value)/LN10))<0.01", "value": -7}, "value": -4}}},
 "y": {"datum": 1, "type": "quantitative", "axis": {"orient": "right", "labels": false, "title": null, "values": [0.001,0.002,0.003,0.004,0.005,0.006,0.007,0.008,0.009,0.01,0.02,0.03,0.04,0.05,0.06,0.07,0.08,0.09,0.1,0.2,0.3,0.4,0.5,0.6,0.7,0.8,0.9,1,2,3,4,5,6,7,8,9,10,20], "tickSize": {"condition": {"test": "abs(log(datum.value)/LN10-round(log(datum.value)/LN10))<0.01", "value": -7}, "value": -4}}}}},
{"data": {"name": "one"}, "mark": {"type": "rect", "fill": "#ffffff", "stroke": "#a4cf0c", "strokeWidth": 3, "clip": false},
 "encoding": {"x": {"datum": 0.001931, "type": "quantitative", "axis": null}, "x2": {"datum": 857.8}, "y": {"datum": 23.0, "type": "quantitative", "axis": null}, "y2": {"datum": 2.458}}},
{"data": {"name": "one"}, "mark": {"type": "text", "text": "dotted lines: UrQMD-2.3", "font": "DejaVu Sans", "fontSize": 42, "align": "left", "baseline": "alphabetic", "color": "#000", "clip": false},
 "encoding": {"x": {"datum": 0.01837, "type": "quantitative", "axis": null}, "y": {"datum": 13.42, "type": "quantitative", "axis": null}}},
{"data": {"name": "one"}, "mark": {"type": "text", "text": "symbols: experimental data", "font": "DejaVu Sans", "fontSize": 42, "align": "left", "baseline": "alphabetic", "color": "#000", "clip": false},
 "encoding": {"x": {"datum": 0.004276, "type": "quantitative", "axis": null}, "y": {"datum": 3.814, "type": "quantitative", "axis": null}}}
],
"resolve": {"axis": {"x": "independent", "y": "independent"}}
},
{
"width": 263, "height": 495,
"layer": [
{"data": {"name": "pi"}, "encoding": {
"x": {"field": "E", "type": "quantitative", "scale": {"type": "log", "domain": [1.6, 228], "nice": false}, "axis": null},
"y": {"field": "M", "type": "quantitative", "scale": {"type": "log", "domain": [0.1, 3000], "nice": false}, "axis": null},
"color": {"field": "s", "type": "nominal", "scale": {"domain": ["π⁺","π⁻/10","π⁰/100","u","b1","b2"], "range": ["#ff0000","#000000","#22dd22","#ff7f27","#1414ff","#1414ff"]}, "legend": {"values": ["π⁺","π⁻/10","π⁰/100"], "orient": "bottom-right", "title": null, "offset": 3, "symbolType": "stroke", "symbolSize": 450, "symbolStrokeWidth": 1.6, "labelFont": "Liberation Serif", "labelFontSize": 8, "labelColor": "#333", "rowPadding": 3, "padding": 0}}
},
"layer": [
{"transform": [{"filter": "datum.t=='ln'||datum.t=='sq'"}], "mark": {"type": "line", "strokeWidth": 1.5, "clip": true}},
{"transform": [{"filter": "datum.t=='dot'"}], "mark": {"type": "line", "strokeWidth": 1.8, "strokeDash": [1.3, 2.7], "opacity": 0.8, "clip": true}},
{"transform": [{"filter": "datum.t=='sq'"}], "mark": {"type": "square", "filled": false, "size": 85, "strokeWidth": 1.6, "opacity": 1, "clip": true}},
{"transform": [{"filter": "datum.t=='pt'&&isValid(datum.lo)"}], "mark": {"type": "rule", "strokeWidth": 1.2, "clip": true}, "encoding": {"y": {"field": "lo", "type": "quantitative", "axis": null}, "y2": {"field": "hi"}}},
{"transform": [{"filter": "datum.t=='pt'&&isValid(datum.lo)"}], "mark": {"type": "tick", "orient": "horizontal", "size": 5, "thickness": 1.2, "opacity": 1, "clip": true}, "encoding": {"y": {"field": "lo", "type": "quantitative", "axis": null}}},
{"transform": [{"filter": "datum.t=='pt'&&isValid(datum.lo)"}], "mark": {"type": "tick", "orient": "horizontal", "size": 5, "thickness": 1.2, "opacity": 1, "clip": true}, "encoding": {"y": {"field": "hi", "type": "quantitative", "axis": null}}},
{"transform": [{"filter": "datum.t=='pt'"}], "mark": {"type": "circle", "size": 34, "opacity": 1, "clip": true}}
]},
{"data": {"name": "one"}, "mark": {"type": "text", "text": "π", "font": "Liberation Serif", "fontSize": 88, "align": "center", "baseline": "alphabetic", "color": "#000"},
 "encoding": {
 "x": {"datum": 78.3, "type": "quantitative", "axis": {"orient": "bottom", "title": "Ecm (GeV)", "titlePadding": 6, "values": [2,3,4,5,6,7,8,9,10,20,30,40,50,60,70,80,90,100,200], "labelExpr": "abs(log(datum.value)/LN10-round(log(datum.value)/LN10))<0.01?['10⁻³','10⁻²','10⁻¹','10⁰','10¹','10²','10³'][round(log(datum.value)/LN10)+3]:(abs(datum.value/pow(10,floor(log(datum.value)/LN10+0.001))-2)<0.01?'2':(abs(datum.value/pow(10,floor(log(datum.value)/LN10+0.001))-5)<0.01?'5':''))", "labelFontSize": {"condition": {"test": "abs(log(datum.value)/LN10-round(log(datum.value)/LN10))<0.01", "value": 8}, "value": 6}, "tickSize": {"condition": {"test": "abs(log(datum.value)/LN10-round(log(datum.value)/LN10))<0.01", "value": -7}, "value": -4}, "labelPadding": 10}},
 "y": {"datum": 0.412, "type": "quantitative", "axis": {"orient": "left", "title": "Multiplicity", "titleFontSize": 13, "titlePadding": 12, "values": [0.1,0.2,0.3,0.4,0.5,0.6,0.7,0.8,0.9,1,2,3,4,5,6,7,8,9,10,20,30,40,50,60,70,80,90,100,200,300,400,500,600,700,800,900,1000,2000,3000], "labelExpr": "abs(log(datum.value)/LN10-round(log(datum.value)/LN10))<0.01?['10⁻³','10⁻²','10⁻¹','10⁰','10¹','10²','10³'][round(log(datum.value)/LN10)+3]:(abs(datum.value/pow(10,floor(log(datum.value)/LN10+0.001))-2)<0.01?'2':(abs(datum.value/pow(10,floor(log(datum.value)/LN10+0.001))-5)<0.01?'5':''))", "labelFontSize": {"condition": {"test": "abs(log(datum.value)/LN10-round(log(datum.value)/LN10))<0.01", "value": 8}, "value": 6}, "tickSize": {"condition": {"test": "abs(log(datum.value)/LN10-round(log(datum.value)/LN10))<0.01", "value": -7}, "value": -4}, "labelPadding": 7}}}},
{"data": {"name": "one"}, "mark": {"type": "text", "text": ""},
 "encoding": {"x": {"datum": 10, "type": "quantitative", "axis": {"orient": "top", "labels": false, "title": null, "values": [2,3,4,5,6,7,8,9,10,20,30,40,50,60,70,80,90,100,200], "tickSize": {"condition": {"test": "abs(log(datum.value)/LN10-round(log(datum.value)/LN10))<0.01", "value": -7}, "value": -4}}},
 "y": {"datum": 1, "type": "quantitative", "axis": {"orient": "right", "labels": false, "title": null, "values": [0.1,0.2,0.3,0.4,0.5,0.6,0.7,0.8,0.9,1,2,3,4,5,6,7,8,9,10,20,30,40,50,60,70,80,90,100,200,300,400,500,600,700,800,900,1000,2000,3000], "tickSize": {"condition": {"test": "abs(log(datum.value)/LN10-round(log(datum.value)/LN10))<0.01", "value": -7}, "value": -4}}}}}
],
"resolve": {"axis": {"x": "independent", "y": "independent"}}
},
{
"width": 264, "height": 495,
"layer": [
{"data": {"name": "k"}, "encoding": {
"x": {"field": "E", "type": "quantitative", "scale": {"type": "log", "domain": [1.6, 228], "nice": false}, "axis": null},
"y": {"field": "M", "type": "quantitative", "scale": {"type": "log", "domain": [0.1, 400], "nice": false}, "axis": null},
"color": {"field": "s", "type": "nominal", "scale": {"domain": ["K⁺","K⁻","u","b"], "range": ["#ff0000","#000000","#ff7f27","#1414ff"]}, "legend": {"values": ["K⁺","K⁻"], "orient": "bottom-right", "title": null, "offset": 3, "symbolType": "stroke", "symbolSize": 450, "symbolStrokeWidth": 1.6, "labelFont": "Liberation Serif", "labelFontSize": 8, "labelColor": "#333", "rowPadding": 3, "padding": 0}}
},
"layer": [
{"transform": [{"filter": "datum.t=='ln'||datum.t=='sq'"}], "mark": {"type": "line", "strokeWidth": 1.5, "clip": true}},
{"transform": [{"filter": "datum.t=='dot'"}], "mark": {"type": "line", "strokeWidth": 1.8, "strokeDash": [1.3, 2.7], "opacity": 0.8, "clip": true}},
{"transform": [{"filter": "datum.t=='sq'"}], "mark": {"type": "square", "filled": false, "size": 85, "strokeWidth": 1.6, "opacity": 1, "clip": true}},
{"transform": [{"filter": "datum.t=='pt'"}], "mark": {"type": "circle", "size": 34, "opacity": 1, "clip": true}}
]},
{"data": {"name": "one"}, "mark": {"type": "text", "text": "K", "font": "Lato", "fontSize": 87, "align": "center", "baseline": "alphabetic", "color": "#000"},
 "encoding": {
 "x": {"datum": 106.5, "type": "quantitative", "axis": {"orient": "bottom", "title": "Ecm (GeV)", "titlePadding": 6, "values": [2,3,4,5,6,7,8,9,10,20,30,40,50,60,70,80,90,100,200], "labelExpr": "abs(log(datum.value)/LN10-round(log(datum.value)/LN10))<0.01?['10⁻³','10⁻²','10⁻¹','10⁰','10¹','10²','10³'][round(log(datum.value)/LN10)+3]:(abs(datum.value/pow(10,floor(log(datum.value)/LN10+0.001))-2)<0.01?'2':(abs(datum.value/pow(10,floor(log(datum.value)/LN10+0.001))-5)<0.01?'5':''))", "labelFontSize": {"condition": {"test": "abs(log(datum.value)/LN10-round(log(datum.value)/LN10))<0.01", "value": 8}, "value": 6}, "tickSize": {"condition": {"test": "abs(log(datum.value)/LN10-round(log(datum.value)/LN10))<0.01", "value": -7}, "value": -4}, "labelPadding": 10}},
 "y": {"datum": 0.3126, "type": "quantitative", "axis": {"orient": "left", "title": null, "values": [0.1,0.2,0.3,0.4,0.5,0.6,0.7,0.8,0.9,1,2,3,4,5,6,7,8,9,10,20,30,40,50,60,70,80,90,100,200,300,400], "labelExpr": "abs(log(datum.value)/LN10-round(log(datum.value)/LN10))<0.01?['10⁻³','10⁻²','10⁻¹','10⁰','10¹','10²','10³'][round(log(datum.value)/LN10)+3]:(abs(datum.value/pow(10,floor(log(datum.value)/LN10+0.001))-2)<0.01?'2':(abs(datum.value/pow(10,floor(log(datum.value)/LN10+0.001))-5)<0.01?'5':''))", "labelFontSize": {"condition": {"test": "abs(log(datum.value)/LN10-round(log(datum.value)/LN10))<0.01", "value": 8}, "value": 6}, "tickSize": {"condition": {"test": "abs(log(datum.value)/LN10-round(log(datum.value)/LN10))<0.01", "value": -7}, "value": -4}, "labelPadding": 7}}}},
{"data": {"name": "one"}, "mark": {"type": "text", "text": ""},
 "encoding": {"x": {"datum": 10, "type": "quantitative", "axis": {"orient": "top", "labels": false, "title": null, "values": [2,3,4,5,6,7,8,9,10,20,30,40,50,60,70,80,90,100,200], "tickSize": {"condition": {"test": "abs(log(datum.value)/LN10-round(log(datum.value)/LN10))<0.01", "value": -7}, "value": -4}}},
 "y": {"datum": 1, "type": "quantitative", "axis": {"orient": "right", "labels": false, "title": null, "values": [0.1,0.2,0.3,0.4,0.5,0.6,0.7,0.8,0.9,1,2,3,4,5,6,7,8,9,10,20,30,40,50,60,70,80,90,100,200,300,400], "tickSize": {"condition": {"test": "abs(log(datum.value)/LN10-round(log(datum.value)/LN10))<0.01", "value": -7}, "value": -4}}}}}
],
"resolve": {"axis": {"x": "independent", "y": "independent"}}
},
{
"width": 262, "height": 495,
"layer": [
{"data": {"name": "p"}, "encoding": {
"x": {"field": "E", "type": "quantitative", "scale": {"type": "log", "domain": [1.6, 228], "nice": false}, "axis": null},
"y": {"field": "M", "type": "quantitative", "scale": {"type": "log", "domain": [0.1, 600], "nice": false}, "axis": null},
"color": {"field": "s", "type": "nominal", "scale": {"domain": ["p","ap","u","b"], "range": ["#ff0000","#000000","#ff7f27","#1414ff"]}, "legend": {"values": ["p","ap"], "orient": "bottom-right", "title": null, "offset": 3, "symbolType": "stroke", "symbolSize": 450, "symbolStrokeWidth": 1.6, "labelFont": "Liberation Serif", "labelFontSize": 8, "labelColor": "#333", "rowPadding": 3, "padding": 0}}
},
"layer": [
{"transform": [{"filter": "datum.t=='ln'||datum.t=='sq'"}], "mark": {"type": "line", "strokeWidth": 1.5, "clip": true}},
{"transform": [{"filter": "datum.t=='dot'"}], "mark": {"type": "line", "strokeWidth": 1.8, "strokeDash": [1.3, 2.7], "opacity": 0.8, "clip": true}},
{"transform": [{"filter": "datum.t=='sq'"}], "mark": {"type": "square", "filled": false, "size": 85, "strokeWidth": 1.6, "opacity": 1, "clip": true}}
]},
{"data": {"name": "one"}, "mark": {"type": "text", "text": "P", "font": "Lato", "fontSize": 87, "align": "center", "baseline": "alphabetic", "color": "#000"},
 "encoding": {
 "x": {"datum": 98.7, "type": "quantitative", "axis": {"orient": "bottom", "title": "Ecm (GeV)", "titlePadding": 6, "values": [2,3,4,5,6,7,8,9,10,20,30,40,50,60,70,80,90,100,200], "labelExpr": "abs(log(datum.value)/LN10-round(log(datum.value)/LN10))<0.01?['10⁻³','10⁻²','10⁻¹','10⁰','10¹','10²','10³'][round(log(datum.value)/LN10)+3]:(abs(datum.value/pow(10,floor(log(datum.value)/LN10+0.001))-2)<0.01?'2':(abs(datum.value/pow(10,floor(log(datum.value)/LN10+0.001))-5)<0.01?'5':''))", "labelFontSize": {"condition": {"test": "abs(log(datum.value)/LN10-round(log(datum.value)/LN10))<0.01", "value": 8}, "value": 6}, "tickSize": {"condition": {"test": "abs(log(datum.value)/LN10-round(log(datum.value)/LN10))<0.01", "value": -7}, "value": -4}, "labelPadding": 10}},
 "y": {"datum": 0.3305, "type": "quantitative", "axis": {"orient": "left", "title": null, "values": [0.1,0.2,0.3,0.4,0.5,0.6,0.7,0.8,0.9,1,2,3,4,5,6,7,8,9,10,20,30,40,50,60,70,80,90,100,200,300,400,500,600], "labelExpr": "abs(log(datum.value)/LN10-round(log(datum.value)/LN10))<0.01?['10⁻³','10⁻²','10⁻¹','10⁰','10¹','10²','10³'][round(log(datum.value)/LN10)+3]:(abs(datum.value/pow(10,floor(log(datum.value)/LN10+0.001))-2)<0.01?'2':(abs(datum.value/pow(10,floor(log(datum.value)/LN10+0.001))-5)<0.01?'5':''))", "labelFontSize": {"condition": {"test": "abs(log(datum.value)/LN10-round(log(datum.value)/LN10))<0.01", "value": 8}, "value": 6}, "tickSize": {"condition": {"test": "abs(log(datum.value)/LN10-round(log(datum.value)/LN10))<0.01", "value": -7}, "value": -4}, "labelPadding": 7}}}},
{"data": {"name": "one"}, "mark": {"type": "text", "text": ""},
 "encoding": {"x": {"datum": 10, "type": "quantitative", "axis": {"orient": "top", "labels": false, "title": null, "values": [2,3,4,5,6,7,8,9,10,20,30,40,50,60,70,80,90,100,200], "tickSize": {"condition": {"test": "abs(log(datum.value)/LN10-round(log(datum.value)/LN10))<0.01", "value": -7}, "value": -4}}},
 "y": {"datum": 1, "type": "quantitative", "axis": {"orient": "right", "labels": false, "title": null, "values": [0.1,0.2,0.3,0.4,0.5,0.6,0.7,0.8,0.9,1,2,3,4,5,6,7,8,9,10,20,30,40,50,60,70,80,90,100,200,300,400,500,600], "tickSize": {"condition": {"test": "abs(log(datum.value)/LN10-round(log(datum.value)/LN10))<0.01", "value": -7}, "value": -4}}}}}
],
"resolve": {"axis": {"x": "independent", "y": "independent"}}
}
],
"columns": 3,
"spacing": {"row": 69, "column": 42},
"bounds": "flush",
"resolve": {"scale": {"color": "independent"}},
"config": {
"view": {"stroke": "#000000", "strokeWidth": 1.3},
"axis": {"domain": false, "grid": false, "labelFont": "Liberation Serif", "labelColor": "#3c3c78", "tickColor": "#000000", "tickWidth": 1, "labelFlush": false, "labelOverlap": false, "titleFont": "Liberation Serif", "titleFontWeight": "normal", "titleColor": "#222222", "titleFontSize": 12}
}
}
